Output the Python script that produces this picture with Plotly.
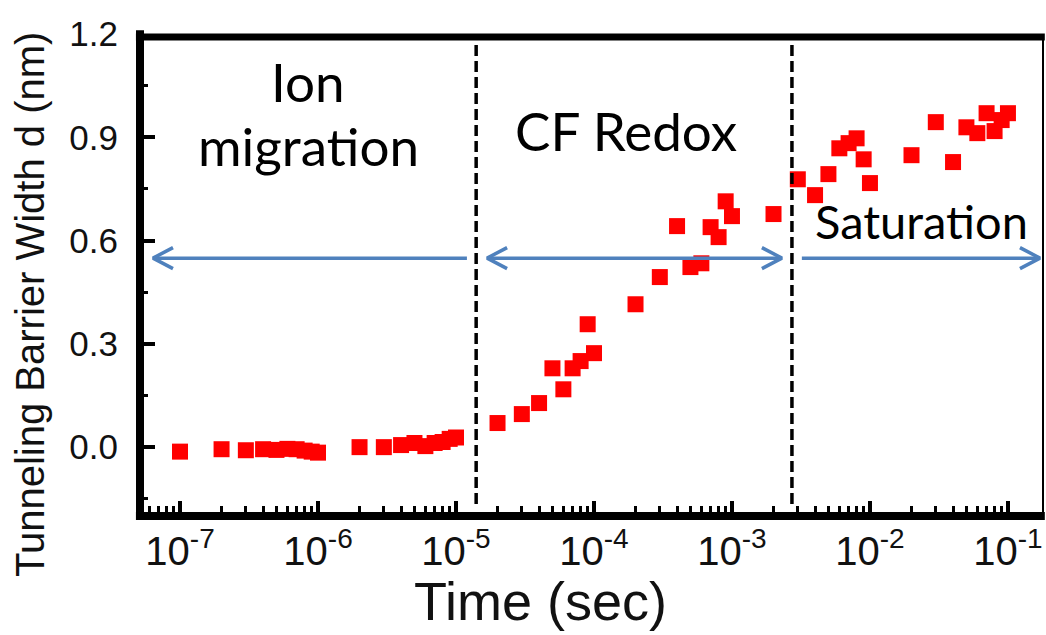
import numpy as np
import plotly.graph_objects as go

# ---- measured tunneling barrier width vs. time, grouped by stage ----
t_ion = [1e-7, 2e-7, 3e-7, 4e-7, 5e-7, 6e-7, 7e-7, 8e-7, 9e-7, 1e-6,
         2e-6, 3e-6, 4e-6, 5e-6, 6e-6, 7e-6, 8e-6, 9e-6, 1e-5]
d_ion = [-0.013, -0.006, -0.009, -0.006, -0.008, -0.005, -0.006, -0.010, -0.013, -0.016,
         0.000, 0.000, 0.006, 0.012, 0.003, 0.012, 0.015, 0.024, 0.028]

t_redox = [2e-5, 3e-5, 4e-5, 5e-5, 6e-5, 7e-5, 8e-5, 9e-5, 1e-4,
           2e-4, 3e-4, 4e-4, 5e-4, 6e-4, 7e-4, 8e-4, 9e-4, 1e-3, 2e-3]
d_redox = [0.070, 0.096, 0.128, 0.229, 0.168, 0.229, 0.250, 0.357, 0.273,
           0.415, 0.494, 0.642, 0.523, 0.534, 0.639, 0.610, 0.714, 0.671, 0.677]

t_sat = [3e-3, 4e-3, 5e-3, 6e-3, 7e-3, 8e-3, 9e-3, 1e-2,
         2e-2, 3e-2, 4e-2, 5e-2, 6e-2, 7e-2, 8e-2, 9e-2, 1e-1]
d_sat = [0.778, 0.732, 0.793, 0.868, 0.883, 0.897, 0.836, 0.767,
         0.848, 0.944, 0.828, 0.929, 0.912, 0.970, 0.918, 0.950, 0.970]

# stage boundaries (s) and stage labels
stage_bounds = [1.40e-5, 2.72e-3]
stage_names = ["Ion", "migration", "CF Redox", "Saturation"]

# x tick labels
x_tickvals = [1e-7, 1e-6, 1e-5, 1e-4, 1e-3, 1e-2, 1e-1]
x_ticktext = ["10<sup>-7</sup>", "10<sup>-6</sup>", "10<sup>-5</sup>", "10<sup>-4</sup>",
              "10<sup>-3</sup>", "10<sup>-2</sup>", "10<sup>-1</sup>"]

# ---- layout geometry (pixels) ----
W, H = 1046, 635
L, R, T, B = 140, 3, 34, 119
PW, PH = W - L - R, H - T - B
X_RANGE = [-7.29, -0.746]
Y_RANGE = [-0.2, 1.2]


def px_x(p):
    return (p - L) / PW


def px_y(p):
    return 1 - (p - T) / PH


ARROW_BLUE = "#4F81BD"
ARROW_Y = 0.549
decade_px = PW / (X_RANGE[1] - X_RANGE[0])
unit_px = PH / (Y_RANGE[1] - Y_RANGE[0])
arm_dx = 20 / decade_px       # chevron arm length in decades
arm_dy = 10.5 / unit_px       # chevron half-height in data units

# arrow spans: (start, end, heads)
arrows = [(6.37e-8, 1.20e-5, "left"),
          (1.68e-5, 2.30e-3, "both"),
          (3.21e-3, 0.1706, "right")]

fig = go.Figure()

all_t = t_ion + t_redox + t_sat
all_d = d_ion + d_redox + d_sat
fig.add_trace(go.Scatter(
    x=all_t, y=all_d, mode="markers",
    marker=dict(symbol="square", size=16, color="#FF0000", line=dict(width=0)),
    showlegend=False, hoverinfo="x+y", cliponaxis=False,
))

# dashed stage dividers
for xb in stage_bounds:
    fig.add_trace(go.Scatter(
        x=[xb, xb], y=[1.168, -0.18], mode="lines",
        line=dict(color="black", width=3.5, dash="11px,5px"),
        showlegend=False, hoverinfo="skip",
    ))


def chevron(tip, direction):
    lt = np.log10(tip)
    back = 10 ** (lt + arm_dx * direction)
    return [back, tip, back], [ARROW_Y + arm_dy, ARROW_Y, ARROW_Y - arm_dy]


for x0, x1, heads in arrows:
    xs, ys = [x0, x1], [ARROW_Y, ARROW_Y]
    fig.add_trace(go.Scatter(x=xs, y=ys, mode="lines",
                             line=dict(color=ARROW_BLUE, width=3.5),
                             showlegend=False, hoverinfo="skip", cliponaxis=False))
    if heads in ("left", "both"):
        cx, cy = chevron(x0, +1)
        fig.add_trace(go.Scatter(x=cx, y=cy, mode="lines",
                                 line=dict(color=ARROW_BLUE, width=3.5),
                                 showlegend=False, hoverinfo="skip", cliponaxis=False))
    if heads in ("right", "both"):
        cx, cy = chevron(x1, -1)
        fig.add_trace(go.Scatter(x=cx, y=cy, mode="lines",
                                 line=dict(color=ARROW_BLUE, width=3.5),
                                 showlegend=False, hoverinfo="skip", cliponaxis=False))

minor_x = [k * 10.0 ** e for e in range(-8, 0) for k in range(2, 10)]

fig.update_xaxes(
    type="log", range=X_RANGE, showgrid=False, zeroline=False, showline=False,
    tickvals=x_tickvals, ticktext=x_ticktext,
    ticks="inside", ticklen=15, tickwidth=4, tickcolor="black",
    minor=dict(tickvals=minor_x, ticks="inside", ticklen=10, tickwidth=3, tickcolor="black"),
    tickfont=dict(family="Liberation Sans", size=40, color="#111"),
    ticklabelstandoff=8,
)
fig.update_yaxes(
    range=Y_RANGE, showgrid=False, zeroline=False, showline=False,
    tick0=0, dtick=0.3, tickformat=".1f",
    ticks="inside", ticklen=15, tickwidth=4, tickcolor="black",
    minor=dict(dtick=0.15, tick0=0, ticks="inside", ticklen=8, tickwidth=3, tickcolor="black"),
    tickfont=dict(family="Liberation Sans", size=35, color="#111"),
    ticklabelstandoff=21,
)

# frame: heavy left, bottom and top edges, thin right edge
frame = [
    dict(x0=0, x1=0, y0=-0.008, y1=1.008, w=8),
    dict(x0=-0.0045, x1=1.002, y0=0, y1=0, w=8),
    dict(x0=-0.0045, x1=1.002, y0=px_y(37), y1=px_y(37), w=7),
    dict(x0=1, x1=1, y0=0, y1=px_y(37), w=2),
]
for f in frame:
    fig.add_shape(type="line", xref="paper", yref="paper",
                  x0=f["x0"], x1=f["x1"], y0=f["y0"], y1=f["y1"],
                  line=dict(color="black", width=f["w"]), layer="above")

stage_font = dict(family="Lato", size=53, color="black")
text_pos = [(308, 81), (308, 145), (626, 130), (921, 221)]
for name, (tx, ty) in zip(stage_names, text_pos):
    fnt = dict(stage_font)
    if name == "Saturation":
        fnt["size"] = 47
    fig.add_annotation(text=name, xref="paper", yref="paper",
                       x=px_x(tx), y=px_y(ty), xanchor="center", yanchor="middle",
                       showarrow=False, font=fnt)

fig.add_annotation(text="Time (sec)", xref="paper", yref="paper",
                   x=px_x(540), y=px_y(601), xanchor="center", yanchor="middle",
                   showarrow=False, font=dict(family="Liberation Sans", size=54, color="#111"))
fig.add_annotation(text="Tunneling Barrier Width d (nm)", xref="paper", yref="paper",
                   x=px_x(30), y=px_y(305), xanchor="center", yanchor="middle", textangle=-90,
                   showarrow=False, font=dict(family="Liberation Sans", size=40, color="#111"))

fig.update_layout(
    width=W, height=H, margin=dict(l=L, r=R, t=T, b=B, pad=0),
    paper_bgcolor="white", plot_bgcolor="white",
    showlegend=False,
)

fig.write_html("out.html")
